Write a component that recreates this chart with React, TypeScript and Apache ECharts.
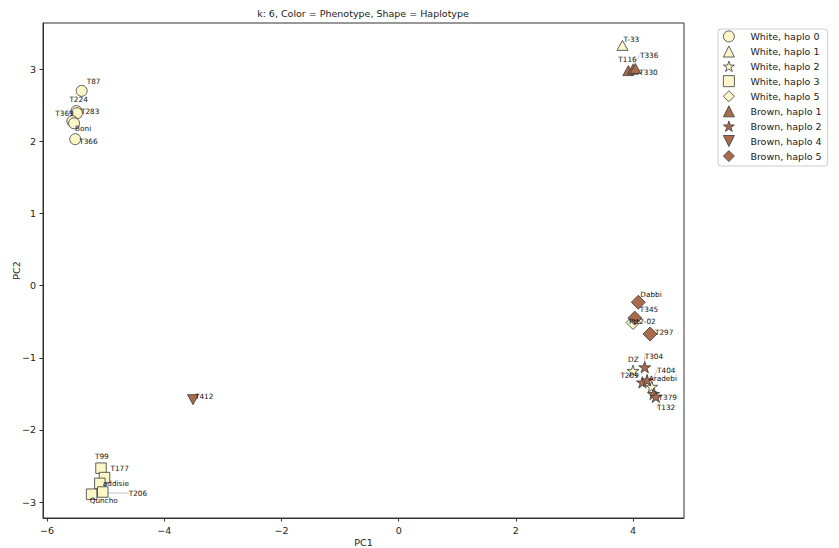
import { useEffect, useRef } from 'react';
import * as echarts from 'echarts';

type Pt = [string, number, number];

const TITLE = 'k: 6, Color = Phenotype, Shape = Haplotype';
const X_NAME = 'PC1';
const Y_NAME = 'PC2';
const X_TICKS = [-6, -4, -2, 0, 2, 4];
const Y_TICKS = [-3, -2, -1, 0, 1, 2, 3];

// [accession, PC1, PC2]
const whiteHaplo0: Pt[] = [
  ['T87', -5.41, 2.7],
  ['T224', -5.5, 2.42],
  ['T283', -5.49, 2.39],
  ['T369', -5.57, 2.28],
  ['Boni', -5.54, 2.25],
  ['T366', -5.52, 2.03],
];
const whiteHaplo1: Pt[] = [['T-33', 3.82, 3.33]];
const whiteHaplo2: Pt[] = [
  ['DZ', 4.0, -1.18],
  ['Aradebi', 4.32, -1.4],
];
const whiteHaplo3: Pt[] = [
  ['T99', -5.08, -2.53],
  ['T177', -5.02, -2.66],
  ['addisie', -5.1, -2.74],
  ['T206', -5.05, -2.86],
  ['Quncho', -5.24, -2.89],
];
const whiteHaplo5: Pt[] = [['Ptt2-02', 4.0, -0.51]];
const brownHaplo1: Pt[] = [
  ['T116', 3.92, 2.98],
  ['T336', 4.0, 3.0],
  ['T330', 4.04, 3.01],
];
const brownHaplo2: Pt[] = [
  ['T304', 4.2, -1.13],
  ['T209', 4.16, -1.34],
  ['T404', 4.24, -1.31],
  ['T379', 4.35, -1.5],
  ['T132', 4.39, -1.54],
];
const brownHaplo4: Pt[] = [['T412', -3.51, -1.58]];
const brownHaplo5: Pt[] = [
  ['Dabbi', 4.09, -0.23],
  ['T345', 4.03, -0.45],
  ['T297', 4.29, -0.67],
];

const WHITE = '#fcf6c8';
const BROWN = '#a86b4b';
const EDGE = '#3a3a3a';
const FONT = 'DejaVu Sans';

const STAR =
  'path://M50,0L61.2,34.5L97.6,34.5L68.2,55.9L79.4,90.5L50,69.1L20.6,90.5L31.8,55.9L2.4,34.5L38.8,34.5Z';
const TRI_DOWN = 'path://M0,0L2,0L1,2Z';

// Where each name sits relative to its marker centre: [left edge dx, middle dy] in px
const LABEL_OFFSET: Record<string, [number, number]> = {
  T87: [5, -9],
  T224: [-7, -12],
  T283: [4, -2],
  T369: [-17, -8],
  Boni: [1, 5],
  T366: [4, 2],
  'T-33': [1, -6],
  DZ: [-5, -11],
  Aradebi: [-3, -8],
  T99: [-6, -12],
  T177: [6, -9],
  addisie: [3, 0],
  T206: [26, 1],
  Quncho: [-2, 6],
  'Ptt2-02': [-4, -1],
  T116: [-10, -11],
  T336: [7, -14],
  T330: [4, 4],
  T304: [0, -11],
  T209: [-22, -7],
  T404: [10, -10],
  T379: [5, 4],
  T132: [1, 11],
  T412: [2, -3],
  Dabbi: [2, -8],
  T345: [5, -9],
  T297: [5, -1],
};
// names pushed far enough from their marker to get a guide line
const LEADER = new Set(['T336', 'T206', 'T404', 'T283', 'T132', 'T369', 'T304']);

const GROUPS = [
  { name: 'White, haplo 0', pts: whiteHaplo0, color: WHITE, symbol: 'circle', size: 11 },
  { name: 'White, haplo 1', pts: whiteHaplo1, color: WHITE, symbol: 'triangle', size: [11, 10] },
  { name: 'White, haplo 2', pts: whiteHaplo2, color: WHITE, symbol: STAR, size: [12, 11.4] },
  { name: 'White, haplo 3', pts: whiteHaplo3, color: WHITE, symbol: 'rect', size: 10.5 },
  { name: 'White, haplo 5', pts: whiteHaplo5, color: WHITE, symbol: 'diamond', size: 14 },
  { name: 'Brown, haplo 1', pts: brownHaplo1, color: BROWN, symbol: 'triangle', size: [11, 10] },
  { name: 'Brown, haplo 2', pts: brownHaplo2, color: BROWN, symbol: STAR, size: [12, 11.4] },
  { name: 'Brown, haplo 4', pts: brownHaplo4, color: BROWN, symbol: TRI_DOWN, size: [11, 10] },
  { name: 'Brown, haplo 5', pts: brownHaplo5, color: BROWN, symbol: 'diamond', size: 14 },
];

const minus = (v: number) => String(v).replace('-', '\u2212');

export default function App() {
  const ref = useRef<HTMLDivElement>(null);

  useEffect(() => {
    if (!ref.current) return;
    const chart = echarts.init(ref.current, undefined, { renderer: 'svg' });

    const axisCommon = {
      type: 'value' as const,
      nameLocation: 'middle' as const,
      nameMoveOverlap: false,
      nameTextStyle: { fontSize: 9.5, fontFamily: FONT, color: '#222' },
      splitLine: { show: false },
      axisLine: { show: true, onZero: false, lineStyle: { color: '#333', width: 1 } },
      axisTick: { show: true, inside: false, length: 3.5, lineStyle: { color: '#333', width: 1 } },
    };

    chart.setOption({
      animation: false,
      backgroundColor: '#ffffff',
      textStyle: { fontFamily: FONT },
      graphic: [
        {
          type: 'text',
          x: 363,
          y: 13,
          style: {
            text: TITLE,
            fontSize: 9.5,
            fontFamily: FONT,
            fill: '#222',
            align: 'center',
            verticalAlign: 'middle',
          },
        },
      ],
      grid: {
        left: 43,
        right: 155,
        top: 23,
        bottom: 30,
        outerBoundsMode: 'none',
        containLabel: false,
        show: true,
        borderColor: '#333',
        borderWidth: 1,
        backgroundColor: 'transparent',
      },
      xAxis: {
        ...axisCommon,
        name: X_NAME,
        nameGap: 19,
        min: -6.07,
        max: 4.87,
        axisTick: { ...axisCommon.axisTick, customValues: X_TICKS },
        axisLabel: {
          customValues: X_TICKS,
          margin: 7,
          fontSize: 9.5,
          fontFamily: FONT,
          color: '#222',
          formatter: minus,
        },
      },
      yAxis: {
        ...axisCommon,
        name: Y_NAME,
        nameGap: 22,
        min: -3.22,
        max: 3.64,
        axisTick: { ...axisCommon.axisTick, customValues: Y_TICKS },
        axisLabel: {
          customValues: Y_TICKS,
          margin: 7,
          fontSize: 9.5,
          fontFamily: FONT,
          color: '#222',
          formatter: minus,
        },
      },
      legend: {
        orient: 'vertical',
        left: 718,
        top: 29,
        padding: [1.5, 6, 4, 5],
        itemWidth: 11,
        itemHeight: 11,
        itemGap: 3.3,
        selectedMode: false,
        borderColor: '#cccccc',
        borderWidth: 1,
        borderRadius: 3,
        backgroundColor: 'rgba(255,255,255,0.85)',
        itemStyle: { borderWidth: 0.8, borderColor: EDGE },
        textStyle: { fontSize: 9.5, fontFamily: FONT, color: '#222', padding: [0, 0, 0, 11] },
        data: GROUPS.map((g) => g.name),
      },
      series: GROUPS.map((g, si) => ({
        type: 'scatter',
        name: g.name,
        symbol: g.symbol,
        symbolSize: g.size,
        itemStyle: { color: g.color, borderColor: EDGE, borderWidth: 0.8, opacity: 1 },
        emphasis: { disabled: true },
        data: g.pts.map(([n, x, y]) => ({
          name: n,
          value: [x, y],
          labelLine: { show: LEADER.has(n) },
        })),
        label: {
          show: true,
          formatter: '{b}',
          position: 'inside',
          fontSize: 7.3,
          fontFamily: FONT,
          color: '#111',
        },
        labelLine: { show: false, lineStyle: { color: '#9a9a9a', width: 0.6 } },
        labelLayout: (p: any) => {
          const nm = GROUPS[si].pts[p.dataIndex][0];
          const [dx, dy] = LABEL_OFFSET[nm] ?? [5, 0];
          return {
            x: p.rect.x + p.rect.width / 2 + dx,
            y: p.rect.y + p.rect.height / 2 + dy,
            align: 'left',
            verticalAlign: 'middle',
          };
        },
      })),
    });

    return () => chart.dispose();
  }, []);

  return (
    <div
      ref={ref}
      style={{ position: 'fixed', left: 0, top: 0, width: 839, height: 548, background: '#fff' }}
    />
  );
}
